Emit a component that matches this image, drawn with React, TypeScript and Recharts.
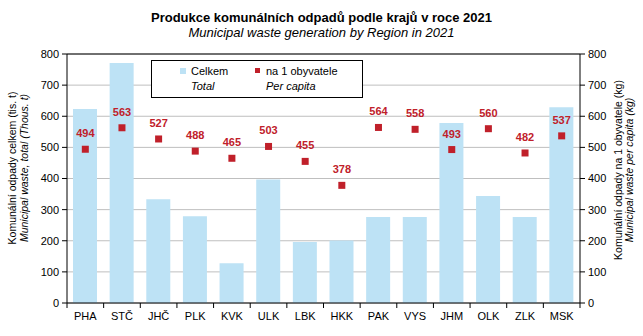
import React from 'react';
import { ComposedChart, Bar, Scatter, XAxis, YAxis, CartesianGrid, ReferenceLine } from 'recharts';

const regions = ['PHA', 'STČ', 'JHČ', 'PLK', 'KVK', 'ULK', 'LBK', 'HKK', 'PAK', 'VYS', 'JHM', 'OLK', 'ZLK', 'MSK'];
const totals = [623, 771, 333, 279, 128, 397, 196, 201, 276, 276, 578, 344, 276, 629];
const perCapita = [494, 563, 527, 488, 465, 503, 455, 378, 564, 558, 493, 560, 482, 537];
const yTicks = [0, 100, 200, 300, 400, 500, 600, 700, 800];

const data = regions.map((r, i) => ({ region: r, total: totals[i], perCapita: perCapita[i] }));

const W = 643;
const H = 336;
const FONT = '"Liberation Sans", Arial, sans-serif';
const BAR = '#BDE2F5';
const RED = '#C0202A';
const PLOT_LEFT = 67;
const PLOT_RIGHT = 580;
const STEP = (PLOT_RIGHT - PLOT_LEFT) / regions.length;

function XTick(props: any) {
  const { x, y, payload, index } = props;
  return (
    <g>
      <line x1={x - STEP / 2} x2={x - STEP / 2} y1={y} y2={y + 5} stroke="#000" />
      {index === regions.length - 1 && (
        <line x1={x + STEP / 2} x2={x + STEP / 2} y1={y} y2={y + 5} stroke="#000" />
      )}
      <text x={x} y={y + 17} textAnchor="middle" fontSize={11} fontFamily={FONT} fill="#000">
        {payload.value}
      </text>
    </g>
  );
}

function Marker(props: any) {
  const { cx, cy, payload } = props;
  return (
    <g>
      <rect x={cx - 3.5} y={cy - 3.5} width={7} height={7} fill={RED} />
      <text x={cx} y={cy - 12} textAnchor="middle" fontSize={11} fontWeight="bold" fontFamily={FONT} fill={RED}>
        {payload.perCapita}
      </text>
    </g>
  );
}

const rot = (x: number, y: number): React.CSSProperties => ({
  position: 'absolute',
  left: x,
  top: y,
  transform: 'translate(-50%, -50%) rotate(-90deg)',
  whiteSpace: 'nowrap',
  fontSize: 10.5,
  lineHeight: '12px',
});

export default function App() {
  return (
    <div style={{ position: 'fixed', left: 0, top: 0, width: W, height: H, background: '#fff', fontFamily: FONT, color: '#000' }}>
      <ComposedChart width={W} height={H} data={data} margin={{ top: 54, right: 0, bottom: 0, left: 0 }}>
        <CartesianGrid vertical={false} stroke="#BFBFBF" yAxisId="left" />
        <XAxis
          dataKey="region"
          height={33}
          axisLine={{ stroke: '#000' }}
          tickLine={false}
          tickSize={0}
          tickMargin={0}
          tick={<XTick />}
          interval={0}
        />
        <YAxis
          yAxisId="left"
          width={67}
          domain={[0, 800]}
          ticks={yTicks}
          axisLine={{ stroke: '#000' }}
          tickLine={{ stroke: '#000' }}
          tickSize={5}
          tickMargin={3}
          tick={{ fontSize: 11, fill: '#000', fontFamily: FONT }}
        />
        <YAxis
          yAxisId="right"
          orientation="right"
          width={63}
          domain={[0, 800]}
          ticks={yTicks}
          axisLine={{ stroke: '#000' }}
          tickLine={{ stroke: '#000' }}
          tickSize={5}
          tickMargin={3}
          tick={{ fontSize: 11, fill: '#000', fontFamily: FONT }}
        />
        <ReferenceLine yAxisId="left" y={800} stroke="#000" />
        <Bar yAxisId="left" dataKey="total" fill={BAR} barSize={24} isAnimationActive={false} />
        <Scatter yAxisId="right" dataKey="perCapita" shape={<Marker />} isAnimationActive={false} />
      </ComposedChart>

      <div style={{ position: 'absolute', left: 0, top: 10, width: W, textAlign: 'center', fontSize: 13, fontWeight: 'bold', lineHeight: '16px' }}>
        Produkce komunálních odpadů podle krajů v roce 2021
      </div>
      <div style={{ position: 'absolute', left: 0, top: 25, width: W, textAlign: 'center', fontSize: 13, fontStyle: 'italic', lineHeight: '16px' }}>
        Municipal waste generation by Region in 2021
      </div>

      <div style={rot(12, 168)}>Komunální odpady celkem (tis. t)</div>
      <div style={{ ...rot(24, 168), fontStyle: 'italic' }}>Municipal waste, total (Thous. t)</div>
      <div style={rot(618, 170)}>Komunální odpady na 1 obyvatele (kg)</div>
      <div style={{ ...rot(629, 170), fontStyle: 'italic' }}>Municipal waste per capita (kg)</div>

      <div style={{ position: 'absolute', left: 151, top: 60, width: 210, height: 36, border: '1px solid #000', background: '#fff', fontSize: 11 }}>
        <div style={{ position: 'absolute', left: 28, top: 7, width: 6, height: 6, background: BAR }} />
        <div style={{ position: 'absolute', left: 39, top: 3, lineHeight: '14px' }}>Celkem</div>
        <div style={{ position: 'absolute', left: 39, top: 18, lineHeight: '14px', fontStyle: 'italic' }}>Total</div>
        <div style={{ position: 'absolute', left: 103, top: 7, width: 5, height: 5, background: RED }} />
        <div style={{ position: 'absolute', left: 114, top: 3, lineHeight: '14px' }}>na 1 obyvatele</div>
        <div style={{ position: 'absolute', left: 114, top: 18, lineHeight: '14px', fontStyle: 'italic' }}>Per capita</div>
      </div>
    </div>
  );
}
